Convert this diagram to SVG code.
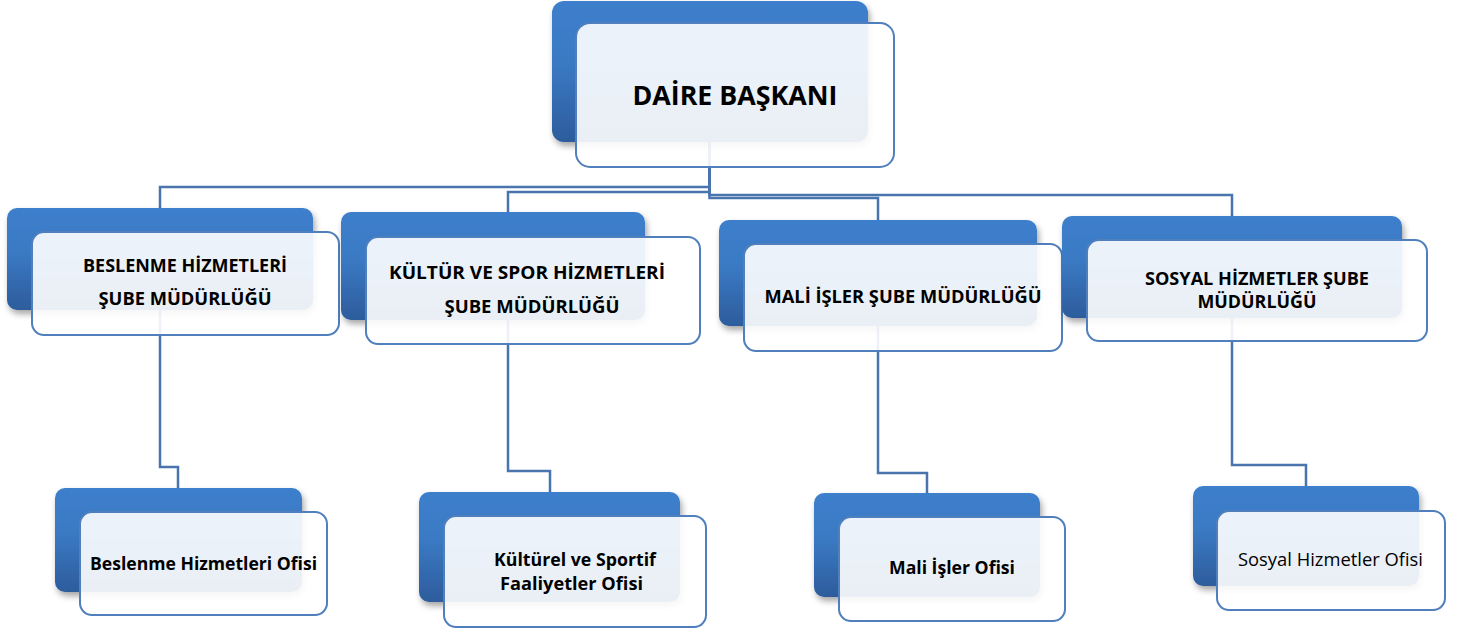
<svg xmlns="http://www.w3.org/2000/svg" width="1464" height="633" viewBox="0 0 1464 633">
<defs>
<linearGradient id="bg" x1="0" y1="0" x2="0" y2="1">
<stop offset="0" stop-color="#3d7fcc"/>
<stop offset="0.45" stop-color="#3a79c3"/>
<stop offset="1" stop-color="#2d5c9c"/>
</linearGradient>
<filter id="sh" x="-10%" y="-10%" width="125%" height="130%">
<feDropShadow dx="2" dy="4" stdDeviation="3" flood-color="#000" flood-opacity="0.35"/>
</filter>
</defs>
<style>
.back{fill:url(#bg);filter:url(#sh)}
.front{fill:#fff;fill-opacity:0.9;stroke:#4f7fbc;stroke-width:2}
.conn{fill:none;stroke:#4a74ad;stroke-width:2.5}
.t{font-family:"Open Sans","Liberation Sans",sans-serif;font-weight:bold;fill:#000;text-anchor:middle}
.n{font-family:"Open Sans","Liberation Sans",sans-serif;font-weight:normal;fill:#000;text-anchor:middle}
</style>
<rect width="1464" height="633" fill="#fff"/>
<g id="connectors">
<path class="conn" d="M709.5,141 V187 H160 V208"/>
<path class="conn" d="M709.5,141 V192 H508 V212"/>
<path class="conn" d="M709.5,141 V195 H1232 V216"/>
<path class="conn" d="M709.5,141 V198 H878 V220"/>
<path class="conn" d="M160,310 V467 H178 V488"/>
<path class="conn" d="M508,320 V471 H550 V492"/>
<path class="conn" d="M878,326 V473 H927 V493"/>
<path class="conn" d="M1232,318 V465 H1306 V486"/>
</g>
<g id="daire-baskani">
<rect class="back" x="552" y="1" width="316" height="141" rx="12"/>
<rect class="front" x="576" y="23" width="318" height="144" rx="14"/>
<text class="t" x="735" y="105" font-size="27" textLength="205" lengthAdjust="spacingAndGlyphs">DAİRE BAŞKANI</text>
</g>
<g id="beslenme-sube">
<rect class="back" x="7" y="208" width="306" height="102" rx="10"/>
<rect class="front" x="32" y="232" width="307" height="103" rx="12"/>
<text class="t" x="185" y="272" font-size="18" textLength="204" lengthAdjust="spacingAndGlyphs">BESLENME HİZMETLERİ</text>
<text class="t" x="185" y="305" font-size="18" textLength="173" lengthAdjust="spacingAndGlyphs">ŞUBE MÜDÜRLÜĞÜ</text>
</g>
<g id="kultur-sube">
<rect class="back" x="341" y="212" width="304" height="108" rx="10"/>
<rect class="front" x="366" y="237" width="334" height="107" rx="12"/>
<text class="t" x="527" y="279" font-size="18" textLength="276" lengthAdjust="spacingAndGlyphs">KÜLTÜR VE SPOR HİZMETLERİ</text>
<text class="t" x="532" y="313" font-size="18" textLength="175" lengthAdjust="spacingAndGlyphs">ŞUBE MÜDÜRLÜĞÜ</text>
</g>
<g id="mali-sube">
<rect class="back" x="719" y="220" width="318" height="106" rx="10"/>
<rect class="front" x="744" y="244" width="318" height="107" rx="12"/>
<text class="t" x="903" y="303" font-size="18" textLength="277" lengthAdjust="spacingAndGlyphs">MALİ İŞLER ŞUBE MÜDÜRLÜĞÜ</text>
</g>
<g id="sosyal-sube">
<rect class="back" x="1062" y="216" width="340" height="102" rx="10"/>
<rect class="front" x="1087" y="240" width="340" height="101" rx="12"/>
<text class="t" x="1257" y="285" font-size="18" textLength="224" lengthAdjust="spacingAndGlyphs">SOSYAL HİZMETLER ŞUBE</text>
<text class="t" x="1257" y="308" font-size="18" textLength="119" lengthAdjust="spacingAndGlyphs">MÜDÜRLÜĞÜ</text>
</g>
<g id="beslenme-ofisi">
<rect class="back" x="55" y="488" width="247" height="104" rx="10"/>
<rect class="front" x="80" y="512" width="247" height="103" rx="12"/>
<text class="t" x="203.5" y="570" font-size="18.5" textLength="227" lengthAdjust="spacingAndGlyphs">Beslenme Hizmetleri Ofisi</text>
</g>
<g id="kultur-ofisi">
<rect class="back" x="419" y="492" width="261" height="110" rx="10"/>
<rect class="front" x="444" y="516" width="262" height="111" rx="12"/>
<text class="t" x="575" y="566" font-size="18" textLength="162" lengthAdjust="spacingAndGlyphs">Kültürel ve Sportif</text>
<text class="t" x="571.5" y="590" font-size="18" textLength="143" lengthAdjust="spacingAndGlyphs">Faaliyetler Ofisi</text>
</g>
<g id="mali-ofisi">
<rect class="back" x="814" y="493" width="226" height="104" rx="10"/>
<rect class="front" x="839" y="517" width="226" height="104" rx="12"/>
<text class="t" x="952" y="574" font-size="18" textLength="126" lengthAdjust="spacingAndGlyphs">Mali İşler Ofisi</text>
</g>
<g id="sosyal-ofisi">
<rect class="back" x="1193" y="486" width="226" height="100" rx="10"/>
<rect class="front" x="1217" y="511" width="228" height="99" rx="12"/>
<text class="n" x="1330.5" y="566" font-size="19" textLength="185" lengthAdjust="spacingAndGlyphs">Sosyal Hizmetler Ofisi</text>
</g>
</svg>
